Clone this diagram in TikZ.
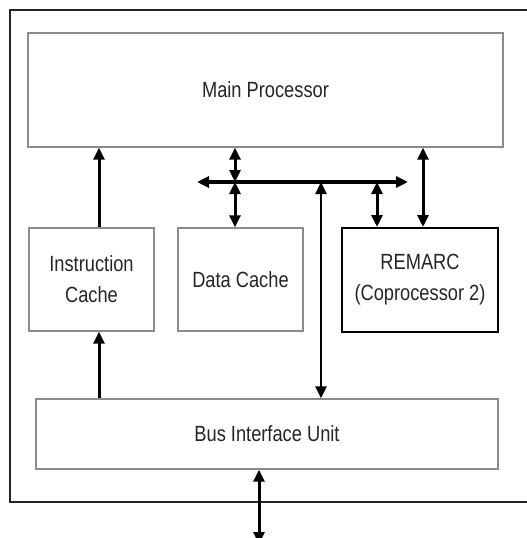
\documentclass[tikz,border=0pt]{standalone}
\usepackage{fontspec}
\setmainfont{Liberation Sans}[FakeStretch=0.83]
\usetikzlibrary{arrows.meta}
\tikzset{
  block/.style={draw=black!45, line width=1.4pt, rectangle, inner sep=0pt,
    align=center, text=black!85, font=\fontsize{22}{31}\selectfont},
  strongblock/.style={block, draw=black, line width=2pt},
  link/.style={line width=3pt, -{Triangle[length=12pt,width=11pt]}},
  duplex/.style={line width=3pt, {Triangle[length=12pt,width=11pt]}-{Triangle[length=12pt,width=11pt]}},
}
\begin{document}
\begin{tikzpicture}[x=1pt,y=-1pt]
\useasboundingbox (0,0) rectangle (527,538);
\fill[white] (0,0) rectangle (527,538);

% chip outline
\draw[line width=2.2pt, black!85] (10,10) rectangle (532,502);

% functional units
\node[block, minimum width=475pt, minimum height=114pt] (mp) at (265.5,90) {Main Processor};
\node[block, minimum width=125pt, minimum height=103pt] (ic) at (91.5,279.5) {Instruction\\Cache};
\node[block, minimum width=125pt, minimum height=103pt] (dc) at (240.5,279.5) {Data Cache};
\node[strongblock, minimum width=156pt, minimum height=104pt] (rem) at (420,280) {REMARC\\(Coprocessor 2)};
\node[block, minimum width=462pt, minimum height=70pt] (biu) at (267,434) {Bus Interface Unit};

% internal data bus
\coordinate (busL) at (197,182);
\coordinate (busR) at (408,182);
\coordinate (tapD) at (235,182);
\coordinate (tapB) at (321,182);
\coordinate (tapR) at (377,182);
\coordinate (cop) at (423,182);
\coordinate (ext) at (259,542);
\draw[duplex, line width=3.4pt] (busL) -- (busR);

% instruction path
\draw[link] ([xshift=7.5pt]ic.north) -- ([xshift=7.5pt]ic.north |- mp.south);
\draw[link] ([xshift=7.5pt]ic.south |- biu.north) -- ([xshift=7.5pt]ic.south);

% data paths
\draw[duplex] (tapD |- mp.south) -- (tapD);
\draw[duplex] (tapD) -- (tapD |- dc.north);
\draw[duplex, line width=2.4pt] (tapB) -- (tapB |- biu.north);
\draw[duplex] (tapR) -- (tapR |- rem.north);
\draw[duplex] (cop |- mp.south) -- (cop |- rem.north);

% external bus
\draw[duplex] (ext |- biu.south) -- ([yshift=-2pt]ext);
\end{tikzpicture}
\end{document}
